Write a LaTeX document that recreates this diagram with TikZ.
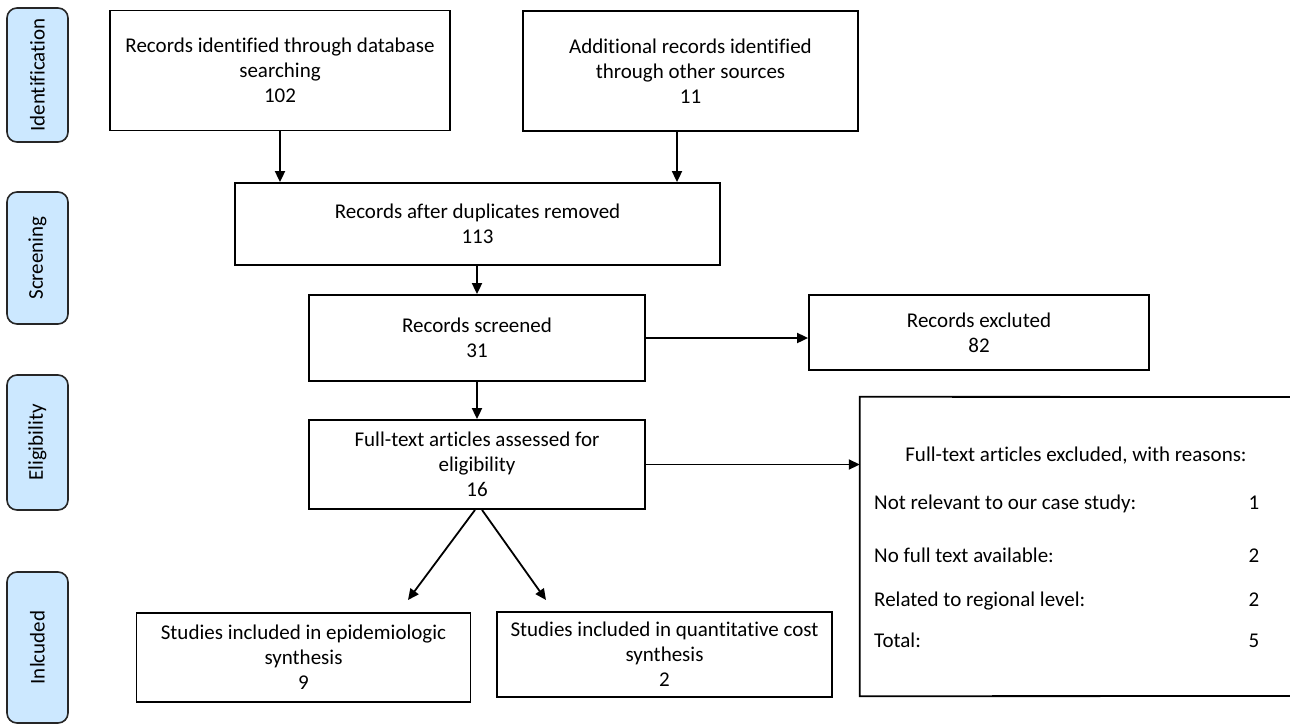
\documentclass[tikz,border=0pt]{standalone}
\usepackage{fontspec}
\setmainfont{Carlito}[Ligatures=NoCommon]
\usetikzlibrary{arrows.meta}
\definecolor{sideblue}{RGB}{204,232,255}
\begin{document}
\begin{tikzpicture}[x=1pt,y=-1pt,
  every node/.style={font=\fontsize{21}{25}\selectfont},
  box/.style={draw=black, line width=1.8pt, align=center, inner sep=0pt},
  side/.style={draw=black!85, fill=sideblue, line width=1.6pt, rounded corners=10pt, rotate=90, minimum height=61pt, inner sep=0pt},
  arr/.style={line width=1.8pt, -{Triangle[length=11pt,width=10pt]}},
  plain/.style={inner sep=0pt}
]
\useasboundingbox (0,0) rectangle (1290,726);

% side labels
\node[side, minimum width=134pt] (s1) at (37.5,75) {Identification};
\node[side, minimum width=132pt] (s2) at (37.5,258) {Screening};
\node[side, minimum width=135pt] (s3) at (37.5,442.5) {Eligibility};
\node[side, minimum width=151pt] (s4) at (37.5,647.5) {Inlcuded};

% boxes
\node[box, minimum width=340pt, minimum height=120pt] (A) at (280,70.5) {Records identified through database\\searching\\102};
\node[box, minimum width=335pt, minimum height=120pt] (B) at (690.5,71) {Additional records identified\\through other sources\\11};
\node[box, minimum width=485pt, minimum height=82pt] (C) at (477.5,224) {Records after duplicates removed\\113};
\node[box, minimum width=336pt, minimum height=86pt] (D) at (477,338) {Records screened\\31};
\node[box, minimum width=340pt, minimum height=75pt] (E) at (979,332.5) {Records excluted\\82};
\node[box, minimum width=336pt, minimum height=89pt] (F) at (477,464.5) {Full-text articles assessed for\\eligibility\\16};
\node[box, minimum width=334pt, minimum height=89pt] (H) at (303.5,657.5) {Studies included in epidemiologic\\synthesis\\9};
\node[box, minimum width=335pt, minimum height=85pt] (I) at (664.5,654.5) {Studies included in quantitative cost\\synthesis\\2};

% right box (cut off at the right edge)
\node[plain, minimum width=440pt, minimum height=299pt] (G) at (1080,546.5) {};
\draw[line width=1.8pt] (1292,397) -- (G.north west) -- (G.south west) -- (1292,696);
\node[plain, anchor=base] (Gt) at (1076,461) {Full-text articles excluded, with reasons:};
\node[plain, anchor=base west] (g1) at (874,509) {Not relevant to our case study:};
\node[plain, anchor=base west] (g2) at (874,562) {No full text available:};
\node[plain, anchor=base west] (g3) at (874,606) {Related to regional level:};
\node[plain, anchor=base west] (g4) at (874,647) {Total:};
\node[plain, anchor=base] (n1) at (1254,509) {1};
\node[plain, anchor=base] (n2) at (1254,562) {2};
\node[plain, anchor=base] (n3) at (1254,606) {2};
\node[plain, anchor=base] (n4) at (1254,647) {5};

% connectors
\draw[arr] (A.south) -- (A.south |- C.north);
\draw[arr] ([xshift=-13.5pt]B.south) -- ([xshift=-13.5pt]B.south |- C.north);
\draw[arr] (D.north |- C.south) -- (D.north);
\draw[arr] (D.east) -- (D.east -| E.west);
\draw[arr] (D.south) -- (F.north);
\draw[arr] (F.east) -- (F.east -| G.west);
\coordinate (h1) at (408,600);
\coordinate (i1) at (546,600);
\draw[arr] ([xshift=-2pt]F.south) -- (h1);
\draw[arr] ([xshift=5pt]F.south) -- (i1);
\end{tikzpicture}
\end{document}
